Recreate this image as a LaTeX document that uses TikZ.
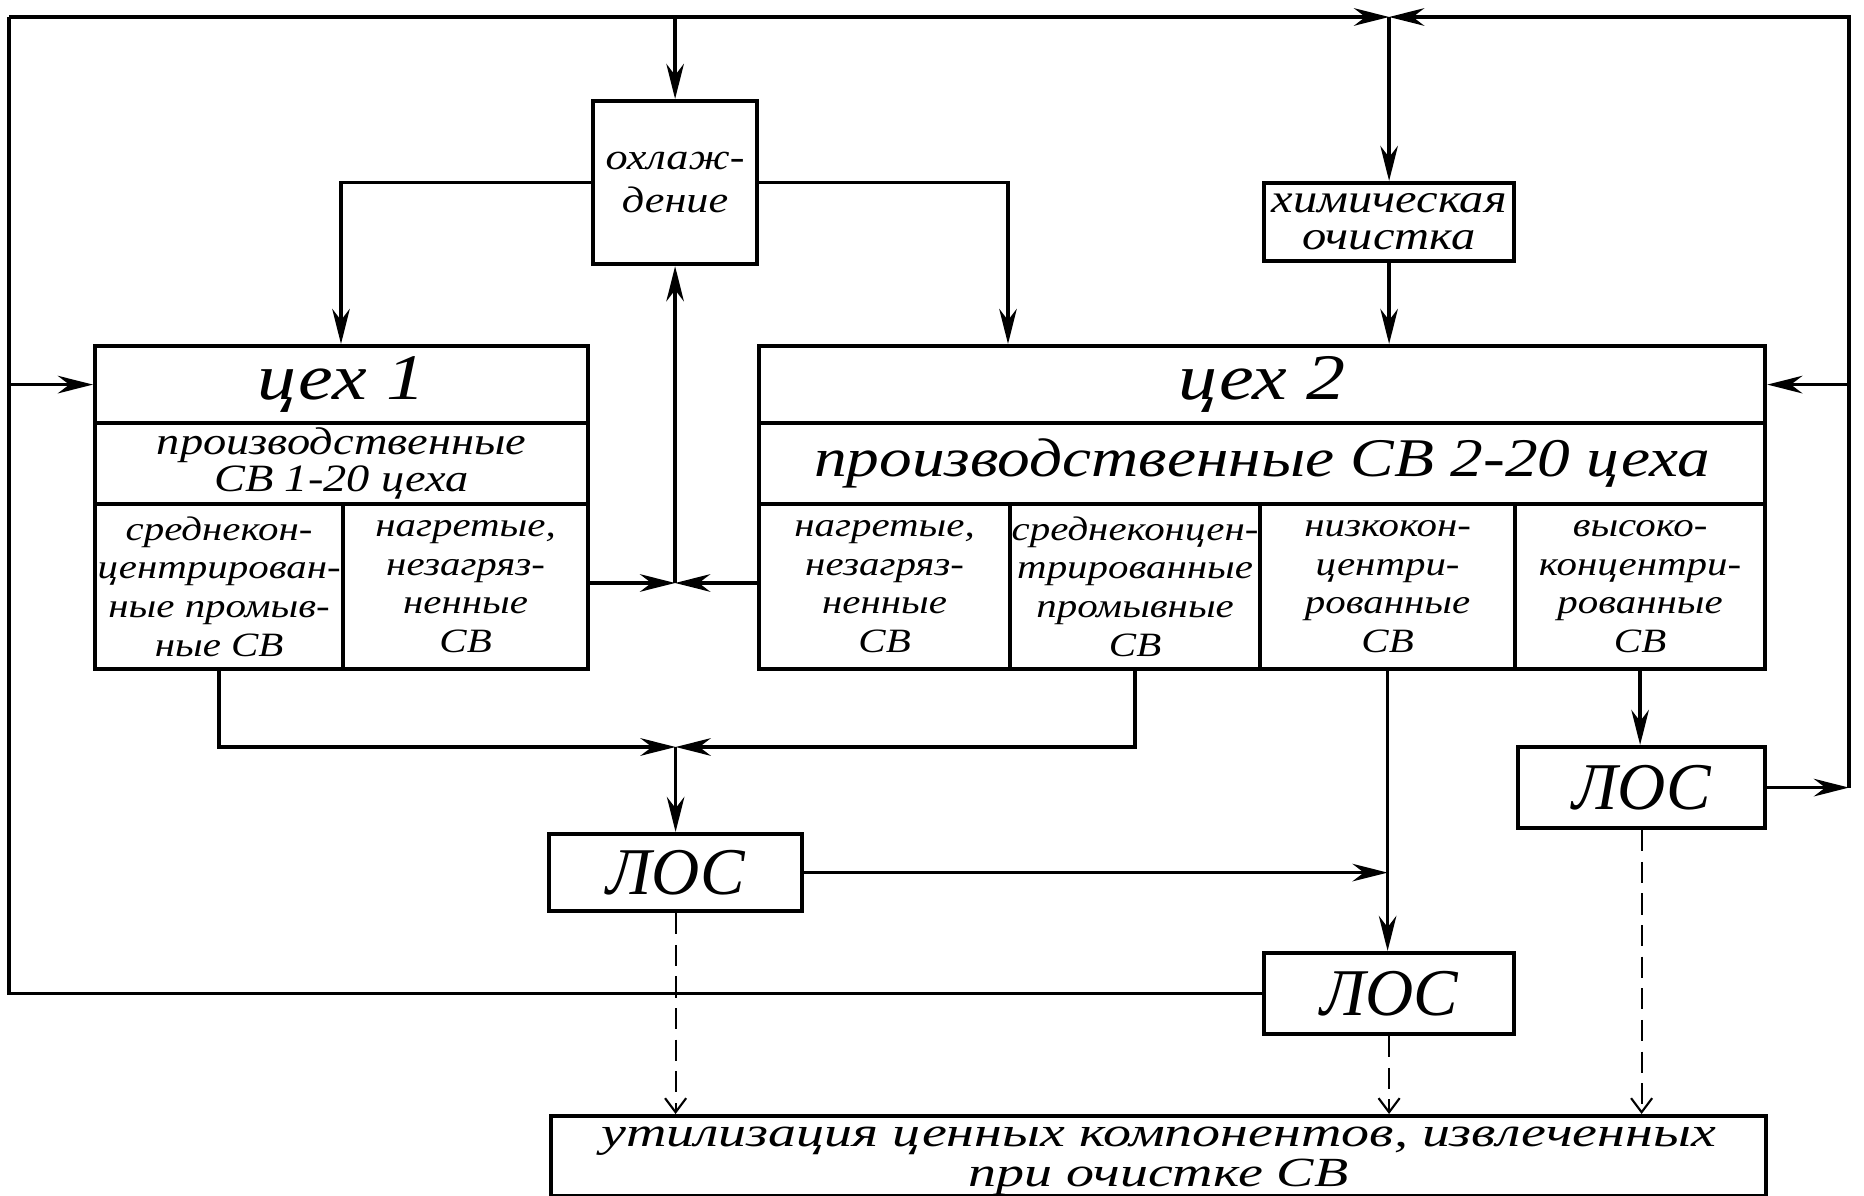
\documentclass[tikz,border=0pt]{standalone}
\usepackage{fontspec}
\setmainfont{Liberation Serif}[FakeStretch=1.2]
\newfontfamily\narrowfont{Liberation Serif}
\newfontfamily\widefont{Liberation Serif}[FakeStretch=1.35]
\usetikzlibrary{arrows.meta}
\begin{document}
\begin{tikzpicture}[
  box/.style={draw,line width=1.2pt,inner sep=0pt,anchor=north west,align=center,font=\itshape\fontsize{9.7}{11}\selectfont},
  head/.style={font=\itshape\fontsize{18.5}{20}\selectfont},
  sub/.style={font=\itshape\fontsize{11}{9.5}\selectfont},
  los/.style={font=\narrowfont\itshape\fontsize{19}{21}\selectfont},
  flow/.style={line width=1pt,-{Stealth[length=10pt,width=5pt]}},
  pipe/.style={line width=1pt},
  drain/.style={line width=.6pt,dash pattern=on 6pt off 3pt,-{Straight Barb[length=4pt,width=6pt]}}]
\useasboundingbox (0,0) rectangle (18.64,-11.96);
\node[box,minimum width=1.64cm,minimum height=1.63cm,font=\itshape\fontsize{10.5}{12}\selectfont] (cool) at (5.91,-.99) {охлаж-\\дение};
\node[box,minimum width=2.5cm,minimum height=.78cm,font=\itshape\fontsize{11.5}{10.5}\selectfont] (chem) at (12.62,-1.81) {химическая\\очистка};
\node[box,head,minimum width=4.93cm,minimum height=.77cm] (c1t) at (.93,-3.44) {цех 1};
\node[box,sub,minimum width=4.93cm,minimum height=.81cm] (c1s) at (.93,-4.21) {производственные\\СВ 1-20 цеха};
\node[box,minimum width=2.48cm,minimum height=1.65cm] (c1a) at (.93,-5.02) {среднекон-\\центрирован-\\ные промыв-\\ные СВ};
\node[box,minimum width=2.45cm,minimum height=1.65cm] (c1b) at (3.41,-5.02) {нагретые,\\незагряз-\\ненные\\СВ};
\node[box,head,minimum width=10.06cm,minimum height=.77cm] (c2t) at (7.57,-3.44) {цех 2};
\node[box,minimum width=10.06cm,minimum height=.81cm,font=\itshape\fontsize{15.5}{17}\selectfont] (c2s) at (7.57,-4.21) {производственные СВ 2-20 цеха};
\node[box,minimum width=2.51cm,minimum height=1.65cm] (c2a) at (7.57,-5.02) {нагретые,\\незагряз-\\ненные\\СВ};
\node[box,minimum width=2.5cm,minimum height=1.65cm] (c2b) at (10.08,-5.02) {среднеконцен-\\трированные\\промывные\\СВ};
\node[box,minimum width=2.55cm,minimum height=1.65cm] (c2c) at (12.58,-5.02) {низкокон-\\центри-\\рованные\\СВ};
\node[box,minimum width=2.5cm,minimum height=1.65cm] (c2d) at (15.13,-5.02) {высоко-\\концентри-\\рованные\\СВ};
\node[box,los,minimum width=2.53cm,minimum height=.77cm] (los1) at (5.47,-8.32) {ЛОС};
\node[box,los,minimum width=2.47cm,minimum height=.81cm] (los2) at (15.16,-7.45) {ЛОС};
\node[box,los,minimum width=2.5cm,minimum height=.81cm] (los3) at (12.62,-9.51) {ЛОС};
\node[box,minimum width=12.15cm,minimum height=.8cm] (util) at (5.49,-11.14) {};
\node[inner sep=0pt,align=center,font=\widefont\itshape\fontsize{11.8}{8.8}\selectfont] (utiltext) at ([yshift=-1.3pt]util.center) {утилизация ценных компонентов, извлеченных\\при очистке СВ};
\coordinate (tl) at (.09,-.17); \coordinate (tr) at (18.49,-.17);
\coordinate (jt) at (chem.north |- tl); \coordinate (lb) at (tl |- los3.west); \coordinate (rb) at (tr |- los2.east);
\coordinate (jm) at (cool.south |- 0,-5.83); \coordinate (jl) at (los1.north |- 0,-7.47);
\draw[pipe] (los3.west) -- (lb) -- (tl);
\draw[flow] (tl) -- (jt);
\draw[flow] (los2.east) -- (rb);
\draw[flow] (rb) -- (tr) -- (jt);
\draw[flow] (jt) -- (chem.north);
\draw[flow] (chem.south) -- (chem.south |- c2t.north);
\draw[flow] (cool.north |- tl) -- (cool.north);
\draw[flow] (tl |- c1t.west) -- (c1t.west);
\draw[flow] (tr |- c2t.east) -- (c2t.east);
\draw[flow] (cool.west) -| (c1b.north west |- c1t.north);
\draw[flow] (cool.east) -| (c2b.north west |- c2t.north);
\draw[flow] (c1b.east |- jm) -- (jm);
\draw[flow] (c2a.west |- jm) -- (jm);
\draw[flow] (jm) -- (cool.south);
\draw[flow] (c1a.south) |- (jl);
\draw[flow] (c2b.south) |- (jl);
\draw[flow] (jl) -- (los1.north);
\draw[flow] (los1.east) -- (los1.east -| c2c.south);
\draw[flow] (c2c.south) -- (c2c.south |- los3.north);
\draw[flow] (c2d.south) -- (c2d.south |- los2.north);
\draw[drain] (los1.south) -- (los1.south |- util.north);
\draw[drain] (los3.south) -- (los3.south |- util.north);
\draw[drain] (los2.south) -- (los2.south |- util.north);
\end{tikzpicture}
\end{document}
